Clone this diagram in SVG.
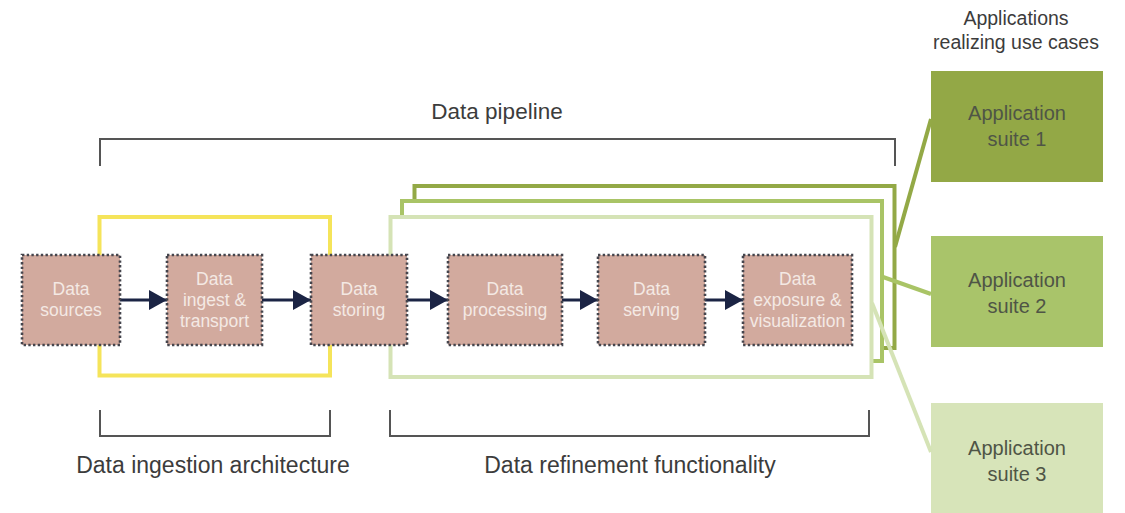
<svg xmlns="http://www.w3.org/2000/svg" width="1125" height="513" viewBox="0 0 1125 513">
  <style>
    .node rect { fill: #d2aa9e; stroke: #45454d; stroke-width: 2.6; stroke-dasharray: 2.4 2.3; }
    .node text { fill: #f4e9e4; font-family: "Liberation Sans", Arial, sans-serif; font-size: 17.5px; text-anchor: middle; }
    .lbl { fill: #3c3c3c; font-family: "Liberation Sans", Arial, sans-serif; font-size: 23px; text-anchor: middle; }
    .top { font-size: 22.5px; }
    .hdr { fill: #3c3c3c; font-family: "Liberation Sans", Arial, sans-serif; font-size: 19.5px; text-anchor: middle; }
    .app text { fill: #4f5546; font-family: "Liberation Sans", Arial, sans-serif; font-size: 20px; text-anchor: middle; }
    .bracket { fill: none; stroke: #555; stroke-width: 2; }
    .frame { fill: #fff; stroke-width: 4; }
    .arrow { stroke: #1b2444; stroke-width: 3; fill: none; marker-end: url(#ah); }
    .link { stroke-width: 4; fill: none; }
  </style>
  <defs>
    <marker id="ah" markerUnits="userSpaceOnUse" markerWidth="18" markerHeight="20" refX="18" refY="10" orient="auto">
      <path d="M0,0 L18,10 L0,20 z" fill="#1b2444"/>
    </marker>
  </defs>
  <rect width="1125" height="513" fill="#fff"/>

  <!-- header texts -->
  <text class="hdr" x="1016" y="25">Applications</text>
  <text class="hdr" x="1016" y="49">realizing use cases</text>
  <text class="lbl top" x="497" y="119">Data pipeline</text>
  <text class="lbl" x="213" y="473">Data ingestion architecture</text>
  <text class="lbl" x="630" y="473">Data refinement functionality</text>

  <!-- brackets -->
  <g id="brackets">
    <path class="bracket" d="M100,166 V139 H895 V166"/>
    <path class="bracket" d="M100,410 V436 H330 V410"/>
    <path class="bracket" d="M390,410 V436 H869 V410"/>
  </g>

  <!-- frames -->
  <g id="frames">
    <rect class="frame" x="99.5" y="217" width="230.5" height="158.5" stroke="#f5e45a"/>
    <rect class="frame" x="414.5" y="186" width="480" height="162" stroke="#93a946"/>
    <rect class="frame" x="402" y="201" width="480" height="160" stroke="#a9c466"/>
    <rect class="frame" x="390.5" y="217" width="481" height="160" stroke="#d5e3b6"/>
  </g>

  <!-- application suites -->
  <g id="app1" class="app">
    <rect x="931" y="71" width="172" height="111" fill="#93a846"/>
    <text x="1017" y="120">Application</text>
    <text x="1017" y="146">suite 1</text>
  </g>
  <g id="app2" class="app">
    <rect x="931" y="236" width="172" height="111" fill="#a9c46a"/>
    <text x="1017" y="287">Application</text>
    <text x="1017" y="313">suite 2</text>
  </g>
  <g id="app3" class="app">
    <rect x="931" y="403" width="172" height="110" fill="#d7e4b9"/>
    <text x="1017" y="455">Application</text>
    <text x="1017" y="481">suite 3</text>
  </g>

  <!-- connectors -->
  <g id="connectors">
    <line class="link" x1="895" y1="247" x2="931" y2="119" stroke="#93a946"/>
    <line class="link" x1="883" y1="277" x2="931" y2="294" stroke="#a9c466"/>
    <line class="link" x1="872" y1="303" x2="931" y2="452" stroke="#d5e3b6"/>
    <line class="arrow" x1="120" y1="300" x2="167" y2="300"/>
    <line class="arrow" x1="262" y1="300" x2="311" y2="300"/>
    <line class="arrow" x1="407" y1="300" x2="448" y2="300"/>
    <line class="arrow" x1="562" y1="300" x2="598" y2="300"/>
    <line class="arrow" x1="705" y1="300" x2="743" y2="300"/>
  </g>

  <!-- pipeline nodes -->
  <g id="n-sources" class="node">
    <rect x="22" y="255" width="98" height="90"/>
    <text x="71" y="295">Data</text>
    <text x="71" y="316">sources</text>
  </g>
  <g id="n-ingest" class="node">
    <rect x="167" y="255" width="95" height="90"/>
    <text x="214.5" y="285">Data</text>
    <text x="214.5" y="306">ingest &amp;</text>
    <text x="214.5" y="327">transport</text>
  </g>
  <g id="n-storing" class="node">
    <rect x="311" y="255" width="96" height="90"/>
    <text x="359" y="295">Data</text>
    <text x="359" y="316">storing</text>
  </g>
  <g id="n-processing" class="node">
    <rect x="448" y="255" width="114" height="90"/>
    <text x="505" y="295">Data</text>
    <text x="505" y="316">processing</text>
  </g>
  <g id="n-serving" class="node">
    <rect x="598" y="255" width="107" height="90"/>
    <text x="651.5" y="295">Data</text>
    <text x="651.5" y="316">serving</text>
  </g>
  <g id="n-exposure" class="node">
    <rect x="743" y="255" width="109" height="90"/>
    <text x="797.5" y="285">Data</text>
    <text x="797.5" y="306">exposure &amp;</text>
    <text x="797.5" y="327">visualization</text>
  </g>
</svg>
